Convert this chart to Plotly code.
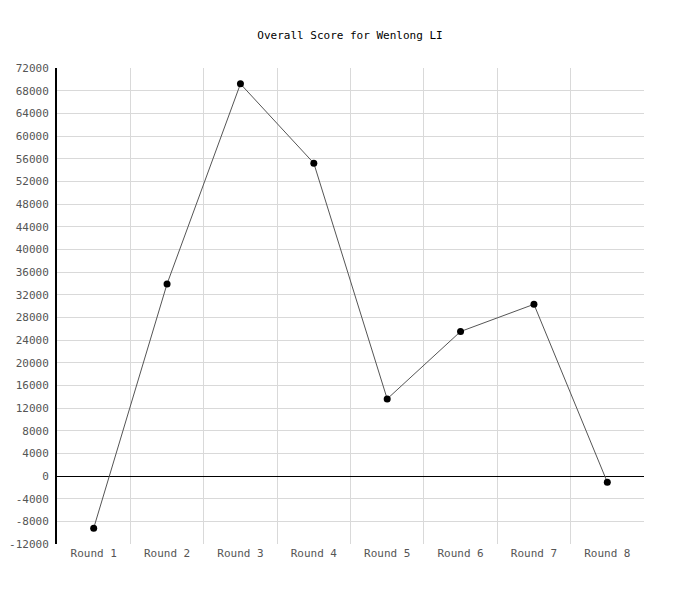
import plotly.graph_objects as go

rounds = ["Round 1", "Round 2", "Round 3", "Round 4", "Round 5", "Round 6", "Round 7", "Round 8"]
scores = [-9200, 33900, 69200, 55200, 13600, 25500, 30300, -1100]
y_ticks = list(range(-12000, 72001, 4000))

x_pos = list(range(1, len(rounds) + 1))

fig = go.Figure()
fig.add_trace(go.Scatter(
    x=x_pos, y=scores, mode="lines+markers",
    line=dict(color="#555555", width=1),
    marker=dict(color="black", size=7),
    showlegend=False, hoverinfo="skip",
))

font = "DejaVu Sans Mono, Liberation Mono, monospace"
fig.update_layout(
    width=700, height=600,
    margin=dict(l=49, r=64, t=60, b=64),
    paper_bgcolor="white", plot_bgcolor="white",
    title=dict(text="Overall Score for Wenlong LI", x=(350 - 8) / 700, xanchor="center",
               y=1 - 27 / 600, yanchor="middle",
               font=dict(family=font, size=11, color="black")),
    font=dict(family=font, size=11, color="#555555"),
)
fig.update_xaxes(
    range=[0.5, len(rounds) + 0.5],
    tickmode="array", tickvals=x_pos, ticktext=rounds,
    showgrid=False, zeroline=False, showline=False, ticks="",
    minor=dict(tickmode="array", tickvals=[i + 0.5 for i in range(len(rounds) + 1)],
               showgrid=True, gridcolor="#d9d9d9", gridwidth=1, ticks=""),
    ticklabelstandoff=1, automargin=False,
)
fig.update_yaxes(
    range=[-12000, 72000],
    tickmode="array", tickvals=y_ticks, ticktext=[str(v) for v in y_ticks],
    showgrid=True, gridcolor="#d9d9d9", gridwidth=1,
    zeroline=True, zerolinecolor="black", zerolinewidth=1,
    showline=True, linecolor="black", linewidth=2, ticks="",
    ticklabelstandoff=4, automargin=False,
)
fig.write_html("out.html")
